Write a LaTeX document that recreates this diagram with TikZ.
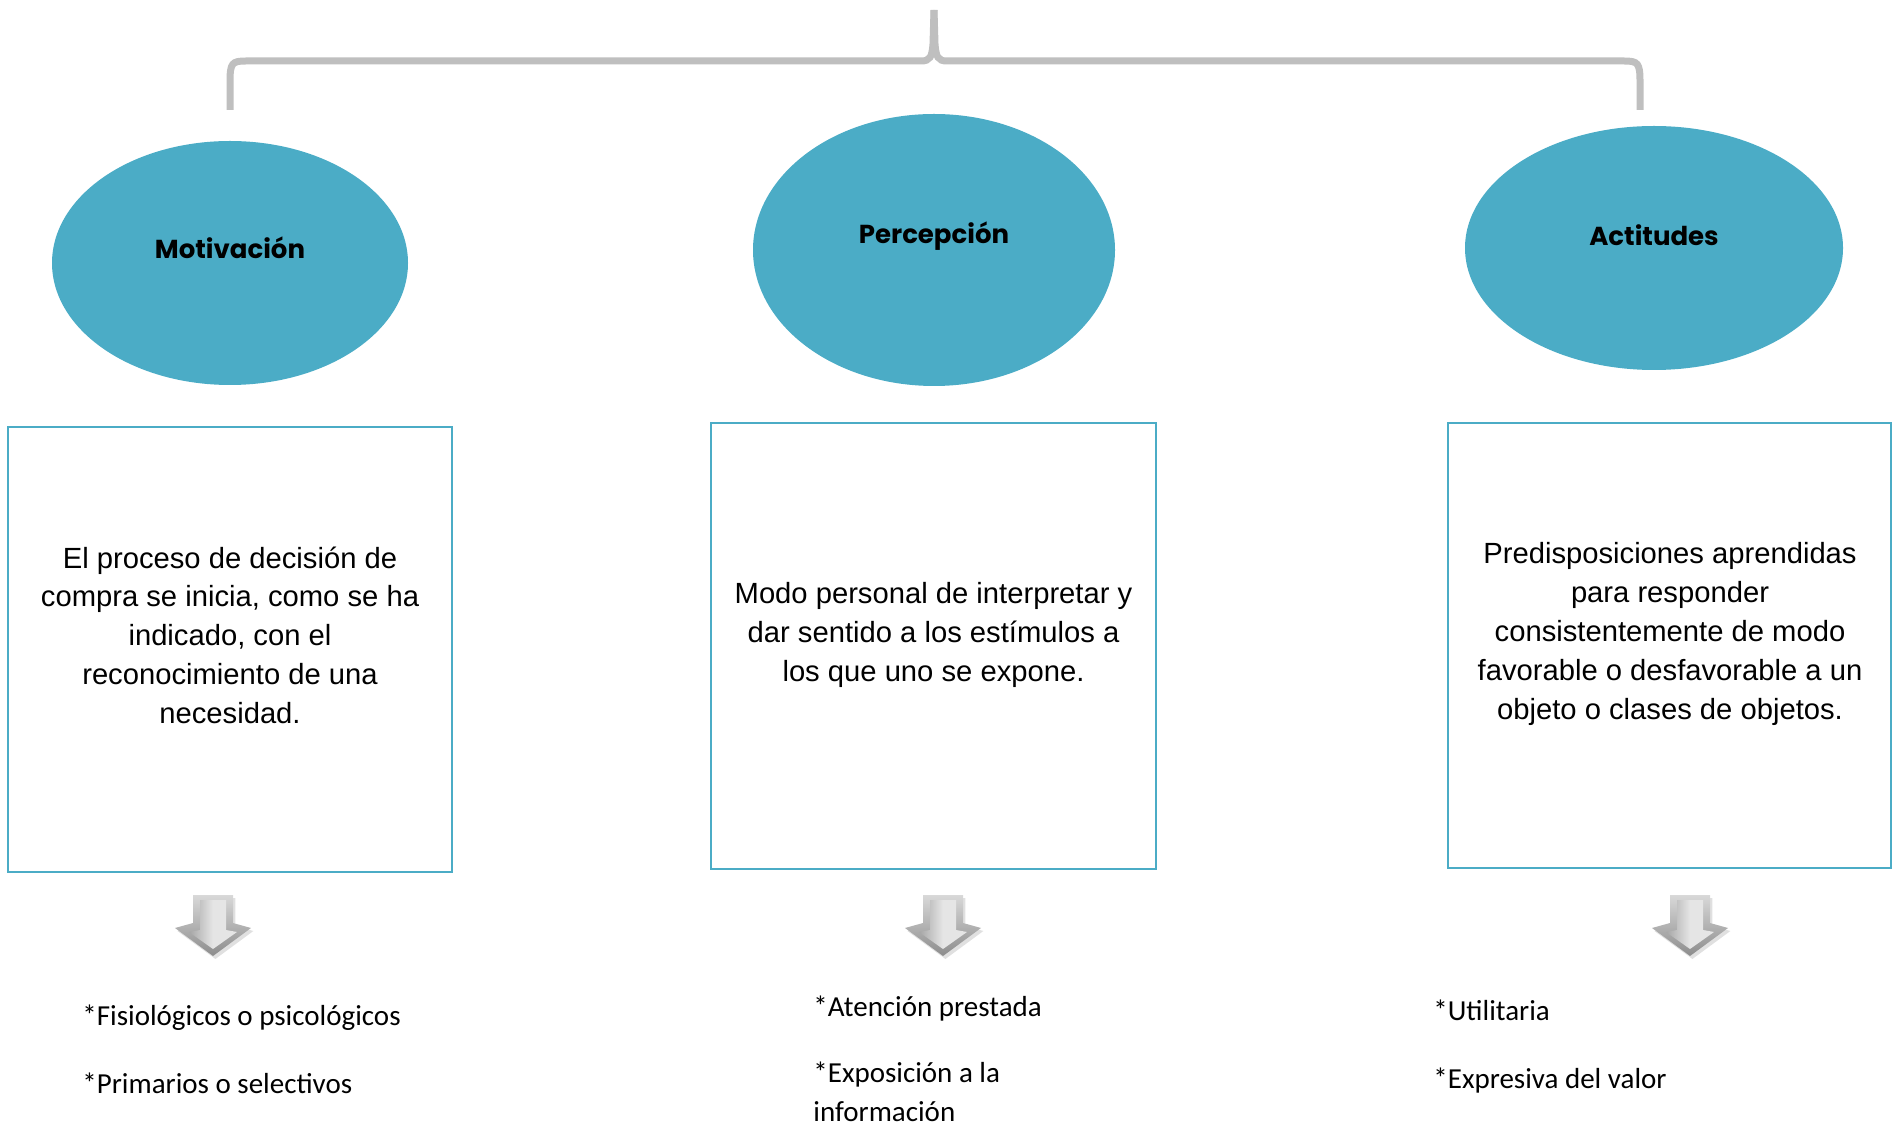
\documentclass[tikz,border=0pt]{standalone}
\usepackage{fontspec}
\setmainfont{Liberation Sans}
\newfontfamily\calibrifont{Carlito}
\newfontfamily\titlefont{Poppins}
\usepackage{tikz}
\usetikzlibrary{shapes,calc,positioning}
\definecolor{teal1}{RGB}{75,172,198}
\definecolor{brace}{RGB}{191,191,191}
\tikzstyle{blob}  =[ellipse, fill=teal1, draw=none, inner sep=0pt]
\tikzstyle{title} =[font=\titlefont\bfseries\fontsize{13}{15}\selectfont, text=black]
\tikzstyle{card}  =[rectangle, draw=teal1, line width=0.9pt, fill=white]
\tikzstyle{body}  =[align=center, font=\fontsize{14.6}{19.4}\selectfont]
\tikzstyle{item}  =[anchor=base west, inner sep=0pt,
                    font=\calibrifont\fontsize{14.5}{20.6}\selectfont]
\newcommand{\grayarrow}[1]{%
  \fill[black!20, opacity=0.6, xshift=1.2pt, yshift=-1.5pt]
    (#1-20,895) -- (#1+20,895) -- (#1+20,923) -- (#1+38,928) -- (#1,956)
    -- (#1-38,928) -- (#1-20,923) -- cycle;
  \shade[top color=black!15, bottom color=black!45]
    (#1-20,895) -- (#1+20,895) -- (#1+20,923) -- (#1+38,928) -- (#1,956)
    -- (#1-38,928) -- (#1-20,923) -- cycle;
  \shade[left color=black!35, right color=black!10, middle color=white!90!black]
    (#1-13,900) -- (#1+13,900) -- (#1+13,930) -- (#1+24,932) -- (#1,949)
    -- (#1-24,932) -- (#1-13,930) -- cycle;
}

\begin{document}
\begin{tikzpicture}[x=0.5pt, y=-0.5pt]
    \useasboundingbox (0,0) rectangle (1900,1127);

    % brace on top
    \draw[brace, line width=3.5pt, line cap=butt]
        (230,110) -- (230,82) .. controls (230,63) and (232,61) .. (246,61)
        -- (921,61) .. controls (930,61) and (932,57) .. (933,44) -- (934,10);
    \draw[brace, line width=3.5pt, line cap=butt]
        (1640,110) -- (1640,82) .. controls (1640,63) and (1638,61) .. (1624,61)
        -- (947,61) .. controls (938,61) and (936,57) .. (935,44) -- (934,10);

    % ellipses
    \node[blob, minimum width=178pt, minimum height=122pt] (m) at (230,263) {};
    \node[blob, minimum width=181pt, minimum height=136pt] (p) at (934,250) {};
    \node[blob, minimum width=189pt, minimum height=122pt] (a) at (1654,248) {};
    \node[title] (mt) at (230,248) {Motivación};
    \node[title] (pt) at (934,236) {Percepción};
    \node[title] (at) at (1654,235) {Actitudes};

    % boxes
    \node[card, minimum width=222pt, minimum height=222.5pt] (mb) at (230,649.5) {};
    \node[card, minimum width=222.5pt, minimum height=223pt] (pb) at (933.5,646) {};
    \node[card, minimum width=221.5pt, minimum height=222.5pt] (ab) at (1669.5,645.5) {};
    \node[body] (mx) at (230,635) {El proceso de decisión de\\compra se inicia, como se ha\\indicado, con el\\reconocimiento de una\\necesidad.};
    \node[body] (px) at (933.5,635) {Modo personal de interpretar y\\dar sentido a los estímulos a\\los que uno se expone.};
    \node[body] (ax) at (1670,634) {Predisposiciones aprendidas\\para responder\\consistentemente de modo\\favorable o desfavorable a un\\objeto o clases de objetos.};

    % arrows
    \foreach \cx in {213,943,1690} {\grayarrow{\cx}}

    % lists
    \node[item] (m1) at (82,1025) {*Fisiológicos o psicológicos};
    \node[item] (m2) at (82,1093) {*Primarios o selectivos};
    \node[item] (p1) at (813,1016) {*Atención prestada};
    \node[item] (p2) at (813,1082) {*Exposición a la};
    \node[item] (p3) at (813,1121) {información};
    \node[item] (a1) at (1433,1020) {*Utilitaria};
    \node[item] (a2) at (1433,1088) {*Expresiva del valor};
\end{tikzpicture}
\end{document}
